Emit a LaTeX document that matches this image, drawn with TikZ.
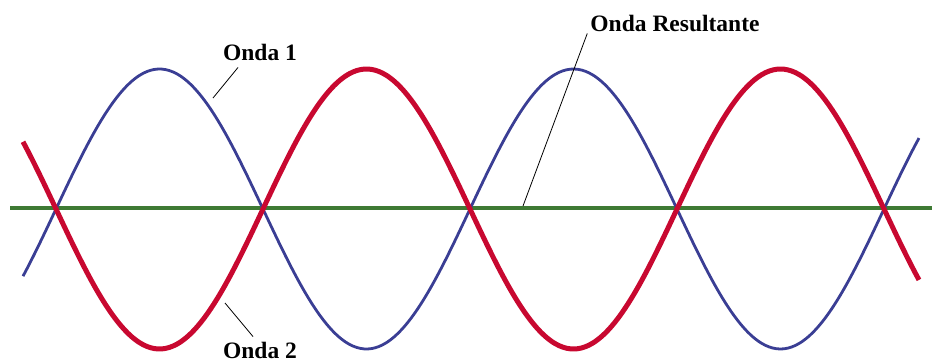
\documentclass[tikz,border=0pt]{standalone}
\usepackage{fontspec}
\setmainfont{Liberation Serif}
\usepackage{xcolor}
\usetikzlibrary{positioning, calc}
\definecolor{ondablue}{RGB}{58,62,148}
\definecolor{ondared}{RGB}{200,8,48}
\definecolor{ondagreen}{RGB}{62,122,52}
\tikzset{
  lbl/.style={font=\fontsize{23.5}{26}\selectfont\bfseries, inner sep=1pt},
  leader/.style={line width=0.8pt, black},
  wave/.style={line width=#1, smooth, samples=240, domain=23:919}
}
\begin{document}
\begin{tikzpicture}[x=1pt, y=-1pt]
  \useasboundingbox (0,0) rectangle (932,362);
  % baseline (resultant)
  \draw[ondagreen, line width=4.5pt] (10,208) -- (932,208);
  % the two waves
  \draw[ondablue, wave=2.8pt] plot (\x, {209-140*sin(((\x-56)/414)*360)});
  \draw[ondared, wave=5pt] plot (\x, {209+140*sin(((\x-56)/414)*360)});

  \node[lbl] (onda1)      at (260,52)  {Onda 1};
  \node[lbl] (onda2)      at (260,350) {Onda 2};
  \node[lbl] (resultante) at (675,23)  {Onda Resultante};

  \coordinate (c1) at (213,98);
  \coordinate (c2) at (225,303);
  \coordinate (c3) at (523,206);
  \draw[leader] ($(onda1.south)+(-22,6)$) -- (c1);
  \draw[leader] ($(onda2.north)+(-7,-4)$) -- (c2);
  \draw[leader] ($(resultante.south west)+(-2,1)$) -- (c3);
\end{tikzpicture}
\end{document}
